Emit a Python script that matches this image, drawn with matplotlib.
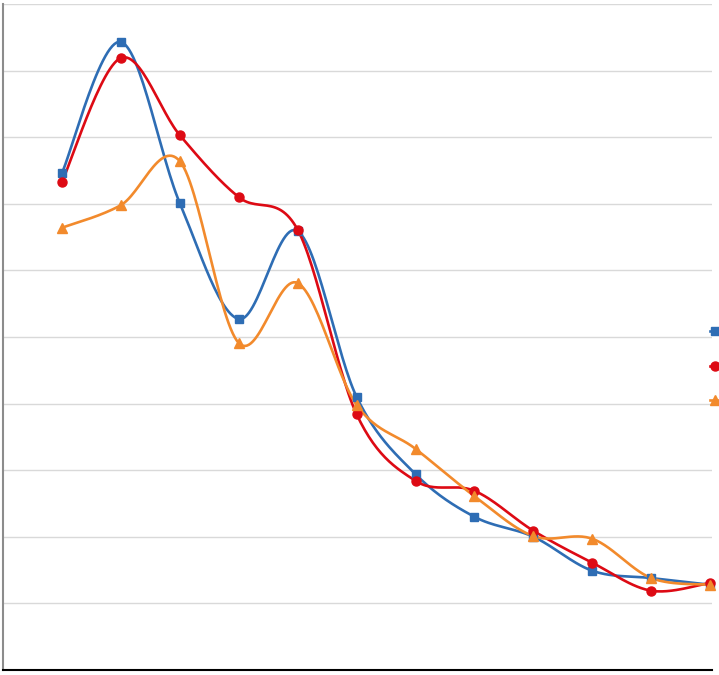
import numpy as np
import matplotlib
matplotlib.use("Agg")
import matplotlib.pyplot as plt

# data
x = np.arange(1, 13)
blue = [7.46, 9.43, 7.01, 5.27, 6.59, 4.10, 2.94, 2.30, 2.00, 1.49, 1.38, 1.28]
red = [7.33, 9.19, 8.03, 7.10, 6.61, 3.84, 2.84, 2.69, 2.09, 1.61, 1.19, 1.31]
orange = [6.64, 6.98, 7.64, 4.91, 5.81, 3.98, 3.32, 2.61, 2.01, 1.97, 1.38, 1.28]
names = ["Series1", "Series2", "Series3"]


def smooth(xs, ys, n=30):
    # Catmull-Rom style bezier, like Excel's smoothed line
    xs = np.asarray(xs, float)
    ys = np.asarray(ys, float)
    px = np.concatenate([[xs[0]], xs, [xs[-1]]])
    py = np.concatenate([[ys[0]], ys, [ys[-1]]])
    outx, outy = [], []
    t = np.linspace(0, 1, n)
    for i in range(1, len(px) - 2):
        p0 = np.array([px[i], py[i]])
        p3 = np.array([px[i + 1], py[i + 1]])
        p1 = p0 + (np.array([px[i + 1], py[i + 1]]) - np.array([px[i - 1], py[i - 1]])) / 6
        p2 = p3 - (np.array([px[i + 2], py[i + 2]]) - np.array([px[i], py[i]])) / 6
        b = ((1 - t) ** 3)[:, None] * p0 + (3 * (1 - t) ** 2 * t)[:, None] * p1 \
            + (3 * (1 - t) * t ** 2)[:, None] * p2 + (t ** 3)[:, None] * p3
        outx.extend(b[:, 0])
        outy.extend(b[:, 1])
    return outx, outy


fig = plt.figure(figsize=(7.19, 6.75), dpi=100)
ax = fig.add_axes([3 / 719, 5 / 675, 709 / 719, 666 / 675])

series = [(blue, "#2E6DB4", "s", 6), (red, "#DD0A14", "o", 6.5), (orange, "#F28A2C", "^", 6.5)]
handles = []
for (ys, col, mk, ms), nm in zip(series, names):
    sx, sy = smooth(x, ys)
    ax.plot(sx, sy, color=col, lw=1.9, zorder=3, solid_capstyle="round")
    ax.plot(x, ys, ls="none", marker=mk, color=col, ms=ms, zorder=4, clip_on=False)
    h, = ax.plot([], [], color=col, lw=1.9, marker=mk, ms=ms, label=nm)
    handles.append(h)

ax.set_xlim(0, 12.03)
ax.set_ylim(0, 10)
ax.set_yticks(np.arange(0, 11, 1))
ax.set_xticks([])
ax.tick_params(left=False, labelleft=False)
ax.grid(axis="y", color="#D9D9D9", lw=1)
ax.set_axisbelow(True)
for s in ["top", "right"]:
    ax.spines[s].set_visible(False)
ax.spines["left"].set_color("#8C8C8C")
ax.spines["left"].set_linewidth(1.5)
ax.spines["bottom"].set_color("#000000")
ax.spines["bottom"].set_linewidth(1.5)

# legend sits mostly past the right edge, only the handles peek in
fig.legend(handles=handles, loc="upper left", bbox_to_anchor=(710 / 719, 1 - 324 / 675),
           frameon=False, borderpad=0, borderaxespad=0, fontsize=11,
           labelspacing=1.3, handlelength=0.7, handletextpad=0.4)

fig.savefig("out.png", dpi=100)
